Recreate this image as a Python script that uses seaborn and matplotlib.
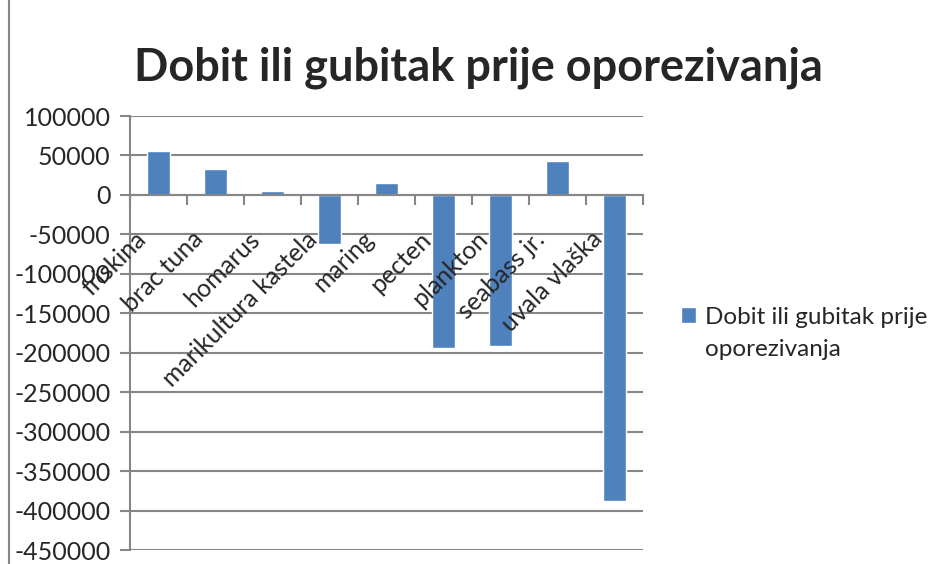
import matplotlib
matplotlib.use("Agg")
import matplotlib.pyplot as plt
import matplotlib.transforms as mtransforms
from matplotlib.lines import Line2D
from matplotlib.patches import Patch
import seaborn as sns
import pandas as pd

# data
categories = ["friskina", "brac tuna", "homarus", "marikultura kastela", "maring",
              "pecten", "plankton", "seabass jr.", "uvala vlaška"]
values = [55900, 33200, 5400, -62400, 15500, -193700, -191200, 43300, -388100]
series_name = "Dobit ili gubitak prije oporezivanja"
y_ticks = list(range(-450000, 100001, 50000))

sns.set_style("white")
plt.rcParams["font.family"] = ["Lato", "DejaVu Sans"]

grey = "#868686"
bar_color = "#4F81BD"

df = pd.DataFrame({"kategorija": categories, "vrijednost": values})

fig = plt.figure(figsize=(9.41, 5.64), dpi=100)
ax = fig.add_axes([130 / 941, 1 - 550 / 564, 513 / 941, (550 - 116) / 564])

sns.barplot(data=df, x="kategorija", y="vrijednost", color=bar_color, saturation=1,
            width=0.42, ax=ax, zorder=3)

ax.set_ylim(-450000, 100000)
ax.set_xlim(-0.5, len(categories) - 0.5)
ax.set_yticks(y_ticks)
ax.set_yticklabels([str(v) for v in y_ticks], fontsize=18)
ax.yaxis.grid(True, color=grey, linewidth=1.5, zorder=0)
ax.set_xlabel("")
ax.set_ylabel("")

# category axis sits on the zero line, its labels drawn over the bars
for s in ["top", "right"]:
    ax.spines[s].set_visible(False)
ax.spines["left"].set_color(grey)
ax.spines["left"].set_linewidth(1.5)
ax.spines["bottom"].set_position(("data", 0))
ax.spines["bottom"].set_color(grey)
ax.spines["bottom"].set_linewidth(1.5)
ax.spines["bottom"].set_zorder(4)
ax.xaxis.set_zorder(5)

ax.tick_params(axis="y", length=7, width=1.5, color=grey, pad=7, left=True)
ax.set_xticks([i - 0.5 for i in range(len(categories) + 1)], minor=True)
ax.tick_params(axis="x", which="minor", length=7, width=1.5, color=grey, direction="out", bottom=True)
ax.tick_params(axis="x", which="major", length=0, pad=33, labelsize=18)

offset = mtransforms.ScaledTranslation(-11 / 100, 0, fig.dpi_scale_trans)
for lab in ax.get_xticklabels():
    lab.set_rotation(45)
    lab.set_ha("right")
    lab.set_va("baseline")
    lab.set_rotation_mode("anchor")
    lab.set_transform(lab.get_transform() + offset)

fig.text(478 / 941, 1 - 68 / 564, series_name, ha="center", va="center",
         fontsize=32.5, fontweight="bold")

# legend: square marker with the wrapped series name
ax.legend(handles=[Patch(facecolor=bar_color)], labels=["Dobit ili gubitak prije"],
          loc="center left", bbox_to_anchor=(681 / 941, 1 - 317 / 564),
          bbox_transform=fig.transFigure, frameon=False, fontsize=17.5,
          handlelength=0.6, handleheight=0.6, handletextpad=0.4,
          borderpad=0, borderaxespad=0)
fig.text(705 / 941, 1 - 350 / 564, "oporezivanja", ha="left", va="center", fontsize=17.5)

# chart border on the left
fig.add_artist(Line2D([9 / 941, 9 / 941], [0, 1], color=grey, linewidth=1.5,
                      transform=fig.transFigure))

fig.savefig("out.png", dpi=100)
